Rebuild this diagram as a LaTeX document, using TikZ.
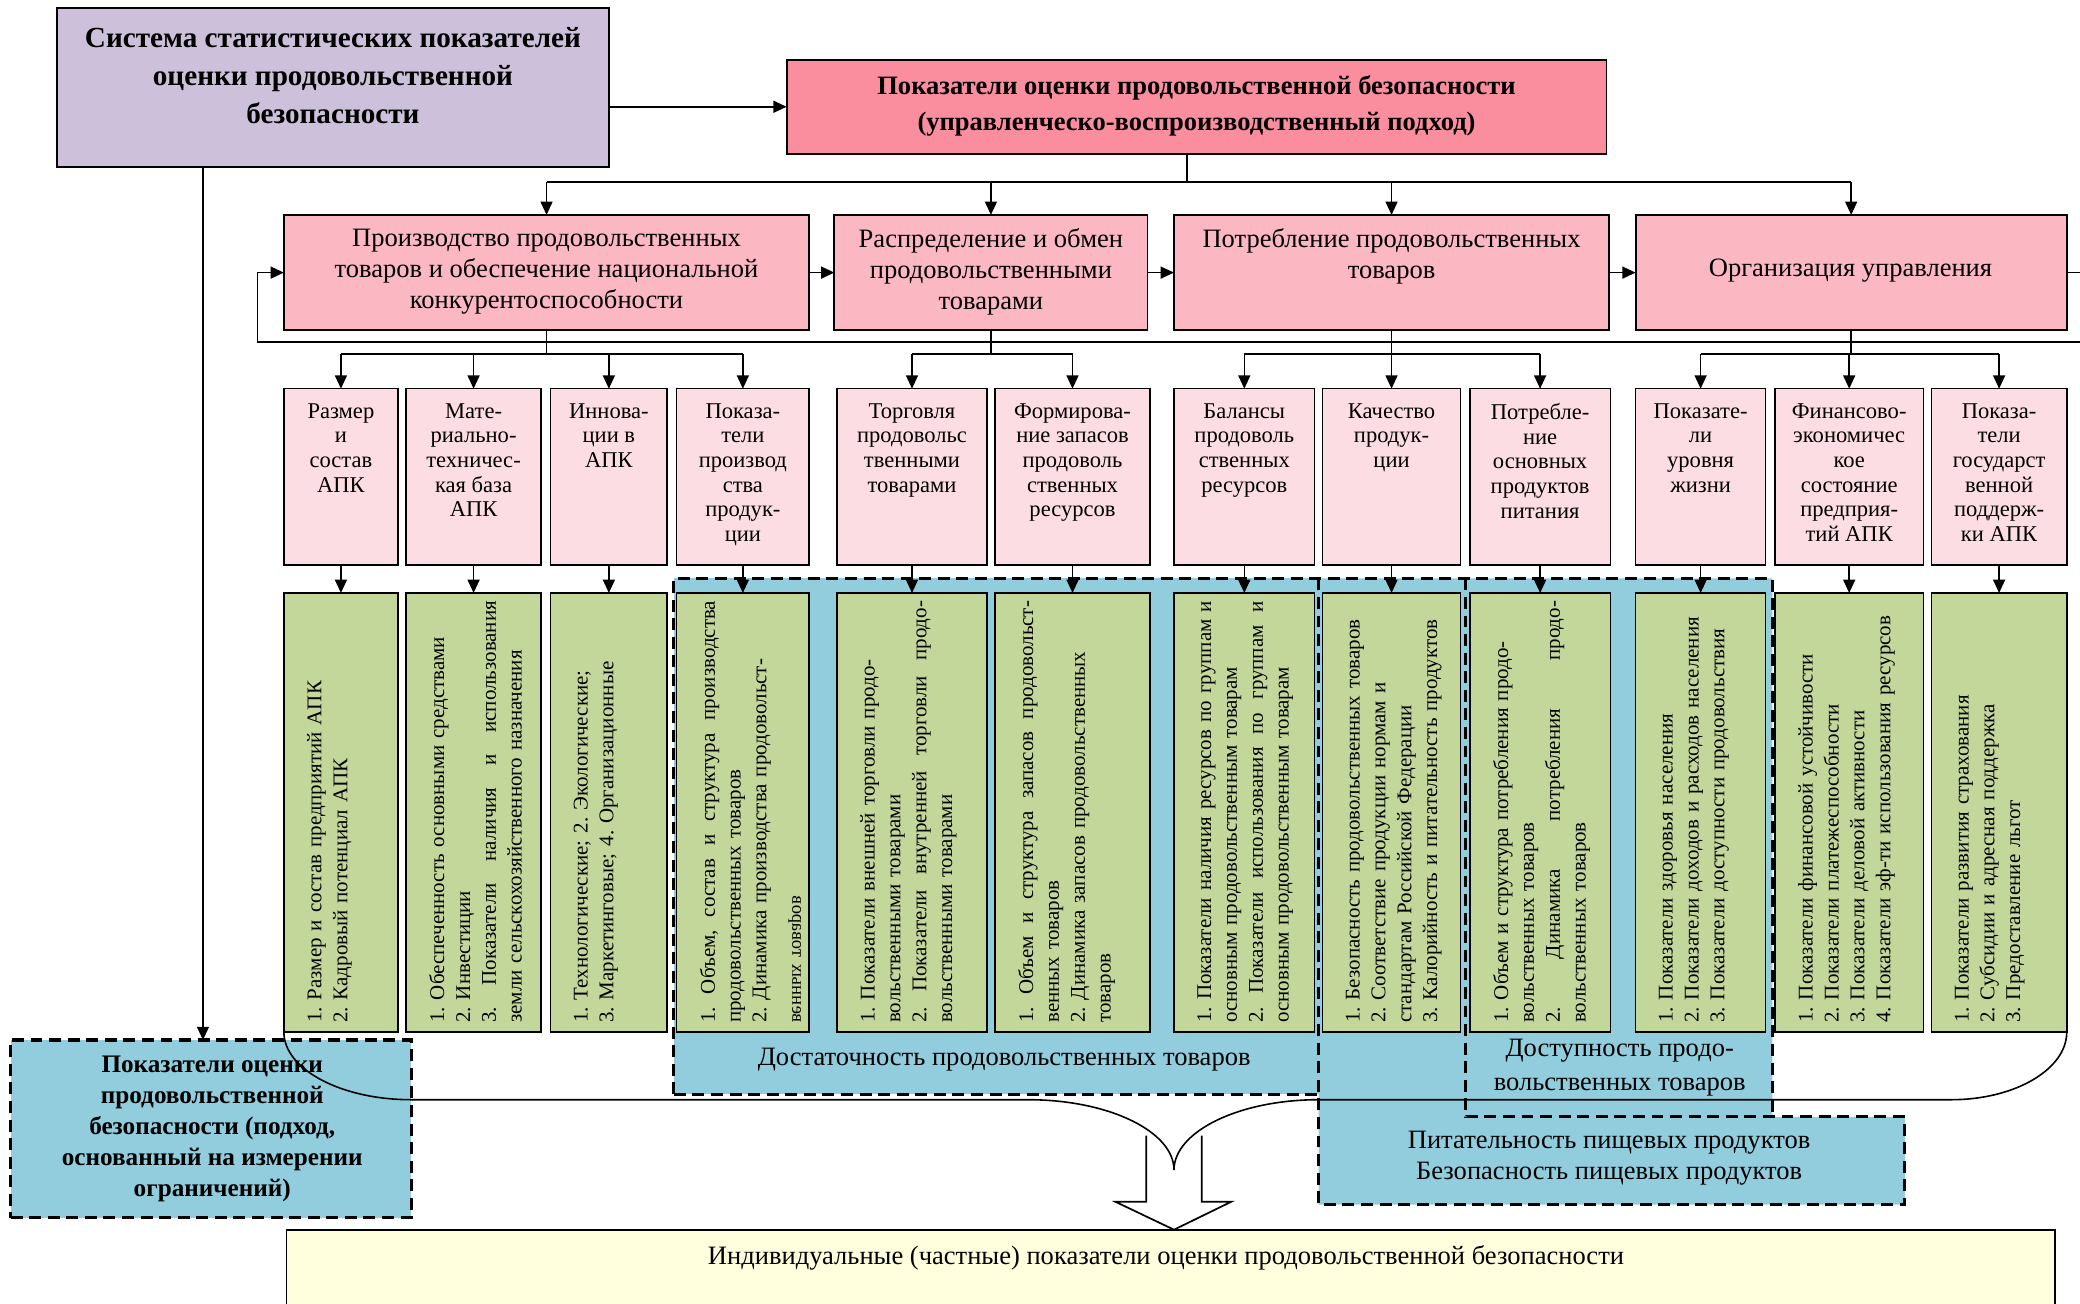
\documentclass[tikz,border=0pt]{standalone}
\usepackage{fontspec}
\setmainfont{Liberation Serif}
\usepackage{graphicx}
\usetikzlibrary{arrows.meta}
\setlength{\parindent}{0pt}
\frenchspacing
\definecolor{cPurple}{RGB}{204,192,218}
\definecolor{cMain}{RGB}{250,142,158}
\definecolor{cPink}{RGB}{251,183,194}
\definecolor{cLight}{RGB}{253,221,228}
\definecolor{cGreen}{RGB}{196,215,155}
\definecolor{cBlue}{RGB}{146,205,221}
\definecolor{cYellow}{RGB}{255,255,221}
\newcommand{\boxnode}[6]{\node[#1, minimum width=#5pt-#3pt, minimum height=#6pt-#4pt] (#2) at (#3,#4) {};}
\newcommand{\justline}[1]{\leavevmode\hbox to 318pt{#1}}
\newcommand{\gap}{\hskip 4pt plus 1fill\relax}
\tikzset{
  every node/.style={inner sep=0pt, outer sep=0pt},
  bx/.style={draw, line width=1.4pt, anchor=north west},
  tlbox/.style={bx, fill=cPurple},
  mainbox/.style={bx, fill=cMain},
  lvtwo/.style={bx, fill=cPink},
  lvthree/.style={bx, fill=cLight, line width=1.2pt},
  lvfour/.style={bx, fill=cGreen, line width=1.2pt},
  ybox/.style={bx, fill=cYellow, line width=1.2pt},
  dsh/.style={line width=2.3pt, dash pattern=on 9pt off 5pt},
  ln/.style={line width=1.2pt},
  arr/.style={ln, -{Triangle[length=10pt,width=9pt]}},
  ttwo/.style={align=center, font=\fontsize{20}{23.5}\selectfont},
  tthree/.style={align=center, anchor=north, font=\fontsize{17}{18.6}\selectfont},
  tfour/.style={rotate=90, anchor=north west, text width=318pt, align=left, font=\fontsize{15.8}{19.5}\selectfont},
  tblue/.style={align=center, font=\fontsize{20}{26}\selectfont},
}
\newcommand{\colpair}[5]{%
  \boxnode{lvthree}{T#1}{#2}{293}{#3}{426}
  \node[tthree, yshift=-11pt] (TT#1) at (T#1.north) {#4};
  \boxnode{lvfour}{G#1}{#2}{447}{#3}{778}
  \node[tfour] (GT#1) at (#2+17.5,771) {#5};
}
\begin{document}
\begin{tikzpicture}[x=1pt,y=-1pt]
\useasboundingbox (0,0) rectangle (1568,983);

% blue regions (fill)
\fill[cBlue] (508,436) rectangle (994,825);
\fill[cBlue] (994,436) -- (1336,436) -- (1336,842) -- (1436,842) -- (1436,908) -- (994,908) -- cycle;

% top boxes
\boxnode{tlbox}{TL}{43}{6}{459}{126}
\node[align=center, font=\bfseries\fontsize{22}{29}\selectfont] (TLt) at (251,57) {Система статистических показателей\\оценки продовольственной\\безопасности};
\boxnode{mainbox}{M}{593}{45}{1211}{116}
\node[align=center, font=\bfseries\fontsize{20}{27}\selectfont] (Mt) at (902,80) {Показатели оценки продовольственной безопасности\\(управленческо-воспроизводственный подход)};

% level 2
\boxnode{lvtwo}{A}{214}{162}{610}{249}
\boxnode{lvtwo}{B}{629}{162}{865}{249}
\boxnode{lvtwo}{C}{885}{162}{1213}{249}
\boxnode{lvtwo}{D}{1233}{162}{1558}{249}
\node[ttwo] (At) at (412,205) {Производство продовольственных\\товаров и обеспечение национальной\\конкурентоспособности};
\node[ttwo] (Bt) at (747,205) {Распределение и обмен\\продовольственными\\товарами};
\node[ttwo] (Ct) at (1049,193) {Потребление продовольственных\\товаров};
\node[ttwo] (Dt) at (1395,204) {Организация управления};

% columns
\colpair{1}{214}{300}{Размер\\и\\состав\\АПК}{1. Размер и состав предприятий АПК\\2. Кадровый потенциал АПК}
\colpair{2}{306}{408}{Мате-\\риально-\\техничес-\\кая база\\АПК}{1. Обеспеченность основными средствами\\2. Инвестиции\\\justline{3.\gap Показатели\gap наличия\gap и\gap использования}\\земли сельскохозяйственного назначения}
\colpair{3}{415}{503}{Иннова-\\ции в\\АПК}{1. Технологические; 2. Экологические;\\3. Маркетинговые; 4. Организационные}
\colpair{4}{510}{610}{Показа-\\тели\\производ\\ства\\продук-\\ции}{\justline{1.\gap Объем,\gap состав\gap и\gap структура\gap производства}\\продовольственных товаров\\2. Динамика производства продовольст-\\\scalebox{1}[-1]{\fontsize{14}{14}\selectfont венных товаров}}
\colpair{5}{631}{744}{Торговля\\продовольс\\твенными\\товарами}{1. Показатели внешней торговли продо-\\вольственными товарами\\\justline{2.\gap Показатели\gap внутренней\gap торговли\gap продо-}\\вольственными товарами}
\colpair{6}{750}{867}{Формирова-\\ние запасов\\продоволь\\ственных\\ресурсов}{\justline{1.\gap Объем\gap и\gap структура\gap запасов\gap продовольст-}\\венных товаров\\2. Динамика запасов продовольственных\\товаров}
\colpair{7}{885}{991}{Балансы\\продоволь\\ственных\\ресурсов}{\justline{1.\gap Показатели\gap наличия\gap ресурсов\gap по\gap группам\gap и}\\основным продовольственным товарам\\\justline{2.\gap Показатели\gap использования\gap по\gap группам\gap и}\\основным продовольственным товарам}
\colpair{8}{997}{1101}{Качество\\продук-\\ции}{1. Безопасность продовольственных товаров\\2. Соответствие продукции нормам и\\стандартам Российской Федерации\\3. Калорийность и питательность продуктов}
\colpair{9}{1108}{1214}{Потребле-\\ние\\основных\\продуктов\\питания}{1. Объем и структура потребления продо-\\вольственных товаров\\\justline{2.\gap Динамика\gap потребления\gap продо-}\\вольственных товаров}
\colpair{10}{1233}{1331}{Показате-\\ли\\уровня\\жизни}{1. Показатели здоровья населения\\2. Показатели доходов и расходов населения\\3. Показатели доступности продовольствия}
\colpair{11}{1338}{1450}{Финансово-\\экономичес\\кое\\состояние\\предприя-\\тий АПК}{1. Показатели финансовой устойчивости\\2. Показатели платежеспособности\\3. Показатели деловой активности\\4. Показатели эф-ти использования ресурсов}
\colpair{12}{1456}{1558}{Показа-\\тели\\государст\\венной\\поддерж-\\ки АПК}{1. Показатели развития страхования\\2. Субсидии и адресная поддержка\\3. Предоставление льгот}

% dashed outlines of the blue regions
\draw[dsh] (508,825) -- (508,436) -- (1336,436) -- (1336,842);
\draw[dsh] (1105,436) -- (1105,842) -- (1436,842) -- (1436,908) -- (994,908) -- (994,436);
\draw[dsh] (508,825) -- (994,825);

% bottom-left dashed box
\node[draw, dsh, fill=cBlue, anchor=north west, minimum width=302pt, minimum height=134pt] (BL) at (8,784) {};
\node[align=center, font=\bfseries\fontsize{19}{23.3}\selectfont] (BLt) at (160,851) {Показатели оценки\\продовольственной\\безопасности (подход,\\основанный на измерении\\ограничений)};

% labels in blue regions
\node[tblue] (S1) at (757,799) {Достаточность продовольственных товаров};
\node[tblue] (S2) at (1221,805) {Доступность продо-\\вольственных товаров};
\node[align=center, font=\fontsize{20}{23}\selectfont] (S3) at (1213,873) {Питательность пищевых продуктов\\Безопасность пищевых продуктов};

% bottom yellow box
\boxnode{ybox}{Y}{216}{927}{1549}{995}
\node[font=\fontsize{20}{24}\selectfont] (Yt) at (879,948) {Индивидуальные (частные) показатели оценки продовольственной безопасности};

% big hollow arrow
\draw[line width=1.3pt, fill=white] (864,856) -- (864,906) -- (841,906) -- (885,927) -- (928,906) -- (906,906) -- (906,856);
% brace
\draw[ln] (G1.south west) .. controls (214,806) and (257,829) .. (310,829) -- (775,829) .. controls (836,829) and (885,853) .. (885,882) .. controls (885,853) and (934,829) .. (994,829) -- (1471,829) .. controls (1519,829) and (1558,806) .. (G12.south east);

% connectors
\coordinate (tlx) at (153,0);
\draw[arr] (TL.south -| tlx) -- (BL.north -| tlx);
\draw[arr] (TL.east |- M.west) -- (M.west);
\coordinate (mb) at (895,137);
\draw[ln] (mb |- M.south) -- (mb);
\draw[ln] (A.north |- mb) -- (D.north |- mb);
\foreach \n in {A,B,C,D} \draw[arr] (\n.north |- mb) -- (\n.north);
\draw[arr] (A.east) -- (B.west);
\draw[arr] (B.east) -- (C.west);
\draw[arr] (C.east) -- (D.west);
\coordinate (fbR) at (1572,258);
\coordinate (fbL) at (194,258);
\draw[arr] (D.east) -| (fbR) -- (fbL) |- (A.west);

\coordinate (b3) at (0,267);
\draw[ln] (A.south) -- (A.south |- b3);
\draw[ln] (T1.north |- b3) -- (T4.north |- b3);
\foreach \i in {1,...,4} \draw[arr] (T\i.north |- b3) -- (T\i.north);
\draw[ln] (B.south) -- (B.south |- b3);
\draw[ln] (T5.north |- b3) -- (T6.north |- b3);
\foreach \i in {5,6} \draw[arr] (T\i.north |- b3) -- (T\i.north);
\draw[ln] (C.south) -- (C.south |- b3);
\draw[ln] (T7.north |- b3) -- (T9.north |- b3);
\foreach \i in {7,8,9} \draw[arr] (T\i.north |- b3) -- (T\i.north);
\draw[ln] (D.south) -- (D.south |- b3);
\draw[ln] (T10.north |- b3) -- (T12.north |- b3);
\foreach \i in {10,11,12} \draw[arr] (T\i.north |- b3) -- (T\i.north);

\foreach \i in {1,...,12} \draw[arr] (T\i.south) -- (G\i.north);
\end{tikzpicture}
\end{document}
